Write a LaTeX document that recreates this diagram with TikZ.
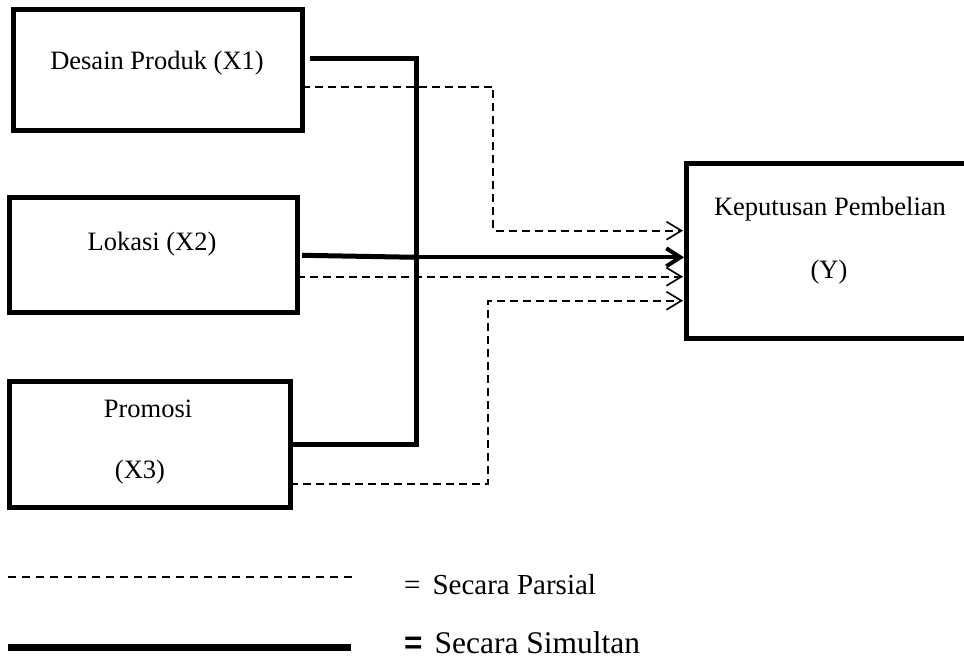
\documentclass[tikz,border=0pt]{standalone}
\usepackage{fontspec}
\setmainfont{Liberation Serif}
\setsansfont{Liberation Sans}
\usetikzlibrary{arrows.meta}
\begin{document}
\begin{tikzpicture}[x=1pt,y=-1pt,
  box/.style={draw, line width=5pt, outer sep=0pt, inner sep=0pt},
  btext/.style={font=\fontsize{26.5}{30}\selectfont, anchor=base, inner sep=0pt},
  simul/.style={line width=5pt},
  simularrow/.style={line width=4pt, -{Straight Barb[length=14pt,width=18pt]}},
  parsial/.style={line width=1.8pt, dash pattern=on 8pt off 5pt},
  ptip/.style={-{Straight Barb[length=15pt,width=18pt,line width=1.6pt]}},
  legdash/.style={line width=1.3pt, dash pattern=on 8pt off 6pt},
  legthick/.style={line width=7pt},
]
\useasboundingbox (0,0) rectangle (964,666);

% boxes
\node[box, minimum width=289pt, minimum height=121pt] (x1) at (157.5,70.5) {};
\node[box, minimum width=288pt, minimum height=115pt] (x2) at (153,254.5) {};
\node[box, minimum width=281pt, minimum height=126pt] (x3) at (149.5,444) {};
\node[box, minimum width=282pt, minimum height=174pt] (y) at (827,251) {};

% texts
\node[btext] (t1) at (157,70) {Desain Produk (X1)};
\node[btext] (t2) at (152,250) {Lokasi (X2)};
\node[btext] (t3a) at (148,417) {Promosi};
\node[btext] (t3b) at (140,478) {(X3)};
\node[btext] (ty1) at (830,215) {Keputusan Pembelian};
\node[btext] (ty2) at (829,278) {(Y)};

% junction coordinates
\coordinate (bartop) at (416.5,58.5);
\coordinate (barbot) at (416.5,444.5);
\coordinate (barmid) at (416.5,257.3);
\coordinate (x2lev) at (0,255.3);
\coordinate (d1) at (493.3,86.7);
\coordinate (d1b) at (493.3,230.7);
\coordinate (lev2) at (0,276.7);
\coordinate (d3) at (487.7,484);
\coordinate (d3b) at (487.7,300.7);

% simultaneous (thick)
\draw[simul] ([xshift=8pt]x1.east |- bartop) -- (bartop) -- (barbot) -- (x3.east |- barbot);
\draw[simul] ([xshift=5pt]x2.east |- x2lev) -- (barmid);
\draw[simularrow] (barmid) -- ([xshift=-2pt]y.west |- barmid);

% partial (dashed)
\draw[parsial, ptip] (x1.east |- d1) -- (d1) -- (d1b) -- ([xshift=-3pt]y.west |- d1b);
\draw[parsial, ptip] (x2.east |- lev2) -- ([xshift=-3pt]y.west |- lev2);
\draw[parsial, ptip] (x3.east |- d3) -- (d3) -- (d3b) -- ([xshift=-3pt]y.west |- d3b);

% legend
\coordinate (lp0) at (8,577);
\coordinate (lp1) at (353,577);
\coordinate (ls0) at (8,647);
\coordinate (ls1) at (351,647);
\draw[legdash] (lp0) -- (lp1);
\draw[legthick] (ls0) -- (ls1);
\node[anchor=base west, inner sep=0pt, font=\fontsize{29}{32}\selectfont] (lpt) at (404,594) {=\hspace{12pt}Secara Parsial};
\node[anchor=base west, inner sep=0pt, font=\fontsize{31.5}{34}\selectfont] (lst) at (404,653) {{\sffamily\bfseries =}\hspace{12pt}Secara Simultan};
\end{tikzpicture}
\end{document}
